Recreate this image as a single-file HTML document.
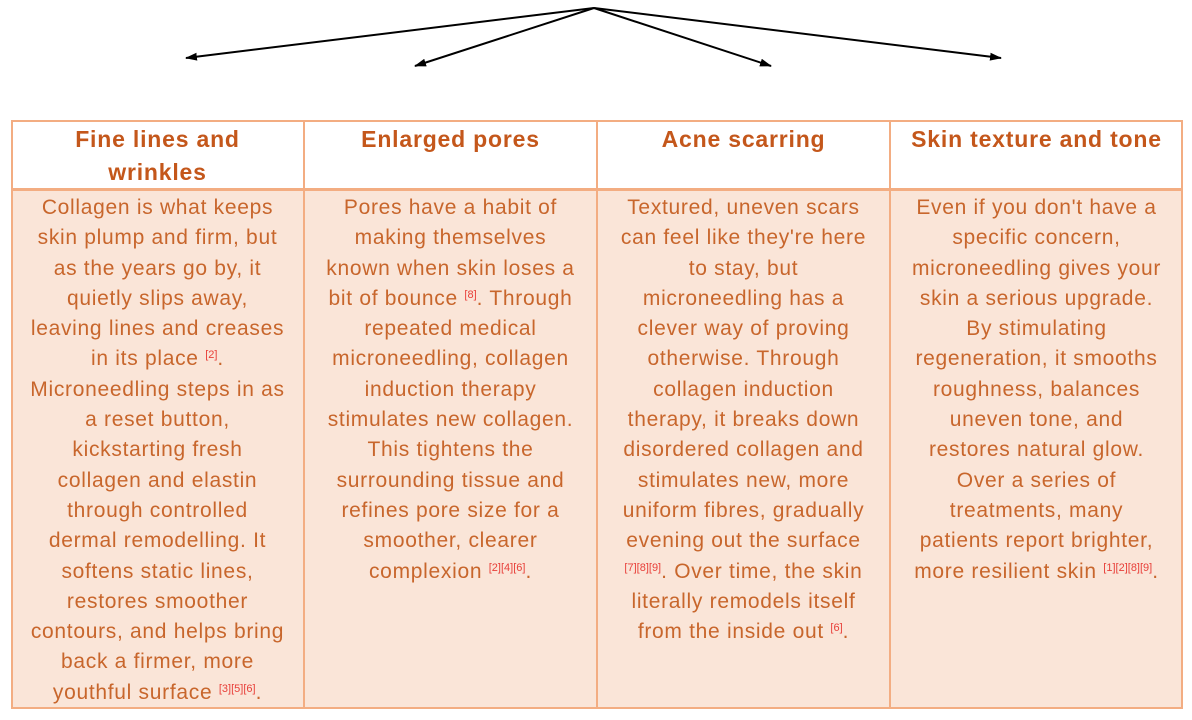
<!DOCTYPE html>
<html><head><meta charset="utf-8"><style>
body{margin:0;width:1192px;height:720px;background:#fff;position:relative;overflow:hidden;font-family:"Liberation Sans",sans-serif}
.hd{position:absolute;top:120px;height:70px;width:293px;text-align:center;color:#c4571b;font-weight:bold;font-size:23px;letter-spacing:0.8px;line-height:33px;padding-top:3px;box-sizing:border-box}
.bd{position:absolute;top:193px;width:293px;text-align:center;color:#c8662c;font-size:21px;line-height:30.3px;letter-spacing:0.7px}
sup{color:#e8403a;font-size:11px;letter-spacing:0;vertical-align:top;position:relative;top:-4px}
</style></head><body>
<svg width="1192" height="120" style="position:absolute;left:0;top:0">
<defs><marker id="a" markerWidth="12" markerHeight="8" refX="11" refY="4" orient="auto" markerUnits="userSpaceOnUse"><path d="M0,0 L12,4 L0,8z" fill="#000"/></marker></defs>
<g stroke="#000" stroke-width="2" marker-end="url(#a)">
<line x1="594" y1="8" x2="186" y2="58"/><line x1="594" y1="8" x2="415" y2="66"/>
<line x1="594" y1="8" x2="771" y2="66"/><line x1="594" y1="8" x2="1001" y2="58"/></g></svg>
<div style="position:absolute;left:11px;top:189px;width:1172px;height:520px;background:#fae5d8"></div>
<div style="position:absolute;left:11px;top:120px;width:1172px;height:589px;box-sizing:border-box;border:2px solid #f3ad82"></div>
<div style="position:absolute;left:11px;top:188px;width:1172px;height:3px;background:#f3ad82"></div>
<div style="position:absolute;left:303px;top:120px;width:2px;height:589px;background:#f3ad82"></div>
<div style="position:absolute;left:596px;top:120px;width:2px;height:589px;background:#f3ad82"></div>
<div style="position:absolute;left:889px;top:120px;width:2px;height:589px;background:#f3ad82"></div>
<div class="hd" style="left:11px">Fine lines and<br>wrinkles</div>
<div class="hd" style="left:304px">Enlarged pores</div>
<div class="hd" style="left:597px">Acne scarring</div>
<div class="hd" style="left:890px">Skin texture and tone</div>
<div class="bd" style="left:11px">Collagen is what keeps<br>skin plump and firm, but<br>as the years go by, it<br>quietly slips away,<br>leaving lines and creases<br>in its place <sup>[2]</sup>.<br>Microneedling steps in as<br>a reset button,<br>kickstarting fresh<br>collagen and elastin<br>through controlled<br>dermal remodelling. It<br>softens static lines,<br>restores smoother<br>contours, and helps bring<br>back a firmer, more<br>youthful surface <sup>[3][5][6]</sup>.</div>
<div class="bd" style="left:304px">Pores have a habit of<br>making themselves<br>known when skin loses a<br>bit of bounce <sup>[8]</sup>. Through<br>repeated medical<br>microneedling, collagen<br>induction therapy<br>stimulates new collagen.<br>This tightens the<br>surrounding tissue and<br>refines pore size for a<br>smoother, clearer<br>complexion <sup>[2][4][6]</sup>.</div>
<div class="bd" style="left:597px">Textured, uneven scars<br>can feel like they're here<br>to stay, but<br>microneedling has a<br>clever way of proving<br>otherwise. Through<br>collagen induction<br>therapy, it breaks down<br>disordered collagen and<br>stimulates new, more<br>uniform fibres, gradually<br>evening out the surface<br><sup>[7][8][9]</sup>. Over time, the skin<br>literally remodels itself<br>from the inside out <sup>[6]</sup>.</div>
<div class="bd" style="left:890px">Even if you don't have a<br>specific concern,<br>microneedling gives your<br>skin a serious upgrade.<br>By stimulating<br>regeneration, it smooths<br>roughness, balances<br>uneven tone, and<br>restores natural glow.<br>Over a series of<br>treatments, many<br>patients report brighter,<br>more resilient skin <sup>[1][2][8][9]</sup>.</div>
</body></html>
